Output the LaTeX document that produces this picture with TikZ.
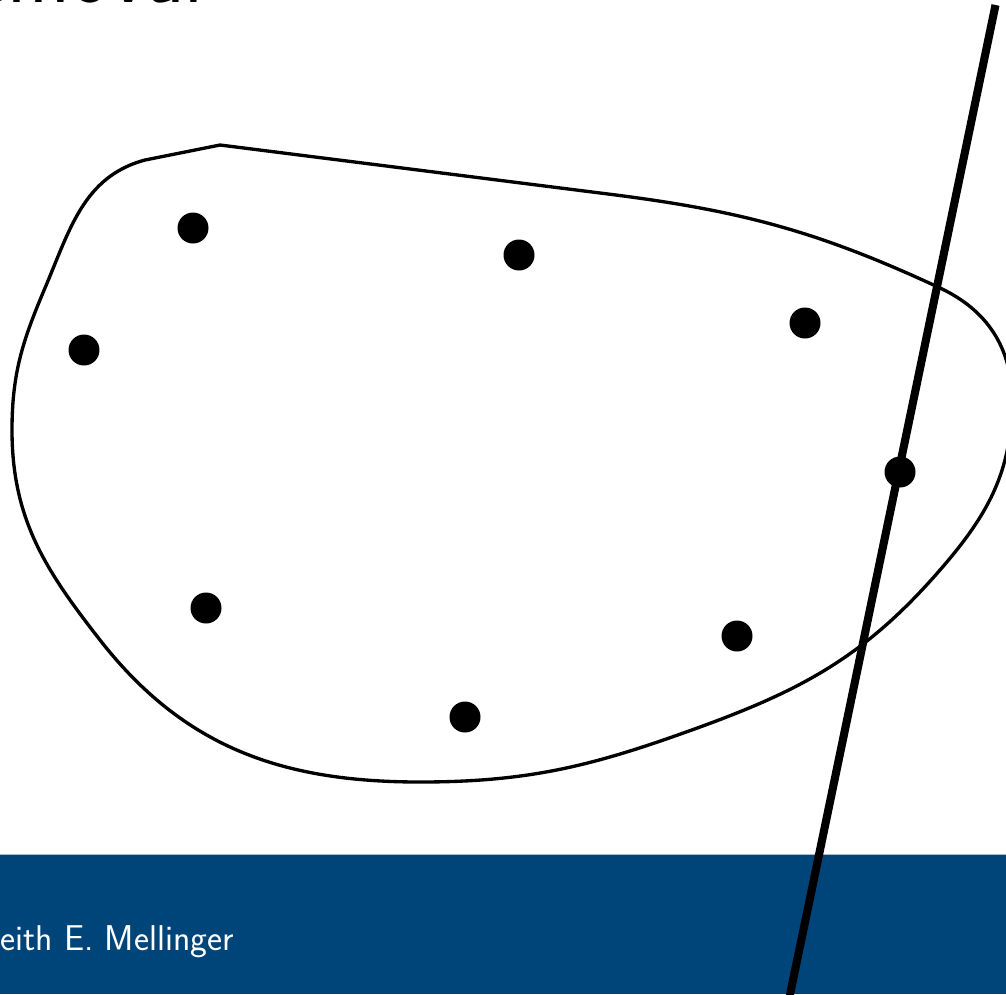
\documentclass[tikz,border=0pt]{standalone}
\usepackage{fontspec}
\definecolor{barblue}{RGB}{0,69,122}
\definecolor{barline}{RGB}{165,185,200}
\tikzset{
  pt/.style = {circle, fill = black, inner sep = 0pt, minimum size = 0.62cm},
  blob/.style = {line width = 1.9pt, line join = round},
  cut/.style = {line width = 4.6pt}
}
\begin{document}
\begin{tikzpicture}[x = 0.02cm, y = -0.02cm]
    \useasboundingbox (0,0) rectangle (1006,994);
    \clip (0,0) rectangle (1006,994);
    % footer bar
    \fill[barblue] (0,855) rectangle (1006,994);
    \draw[barline, line width = 0.6pt] (0,854.5) -- (1006,854.5);
    \node[anchor = base west, inner sep = 0pt, font = \sffamily\fontsize{48}{48}\selectfont] (title) at (-28,2) {emoval};
    \node[anchor = base west, inner sep = 0pt, white, font = \sffamily\fontsize{20.4}{20.4}\selectfont] (author) at (0,950) {eith E. Mellinger};
    % the region
    \draw[blob] (220,145) -- (600,193)
        to[out = -7, in = 155] (940,288)
        to[out = -25, in = 90] (1012,400)
        to[out = -90, in = 49] (940,570)
        to[out = 229, in = 20] (700,727)
        to[out = 200, in = 0] (420,782)
        to[out = 180, in = -52] (100,640)
        to[out = 128, in = -90] (12,430)
        to[out = 90, in = -113] (45,288)
        to[out = 67, in = -165] (145,160) -- cycle;
    % points
    \node[pt] (p1) at (193,228) {};
    \node[pt] (p2) at (519,255) {};
    \node[pt] (p3) at (84,350) {};
    \node[pt] (p4) at (805,323) {};
    \node[pt] (p5) at (900,472) {};
    \node[pt] (p6) at (206,608) {};
    \node[pt] (p7) at (737,636) {};
    \node[pt] (p8) at (465,717) {};
    % the line
    \coordinate (top) at (995.5,5);
    \coordinate (bot) at (788,1004);
    \draw[cut] (top) -- (bot);
\end{tikzpicture}
\end{document}
